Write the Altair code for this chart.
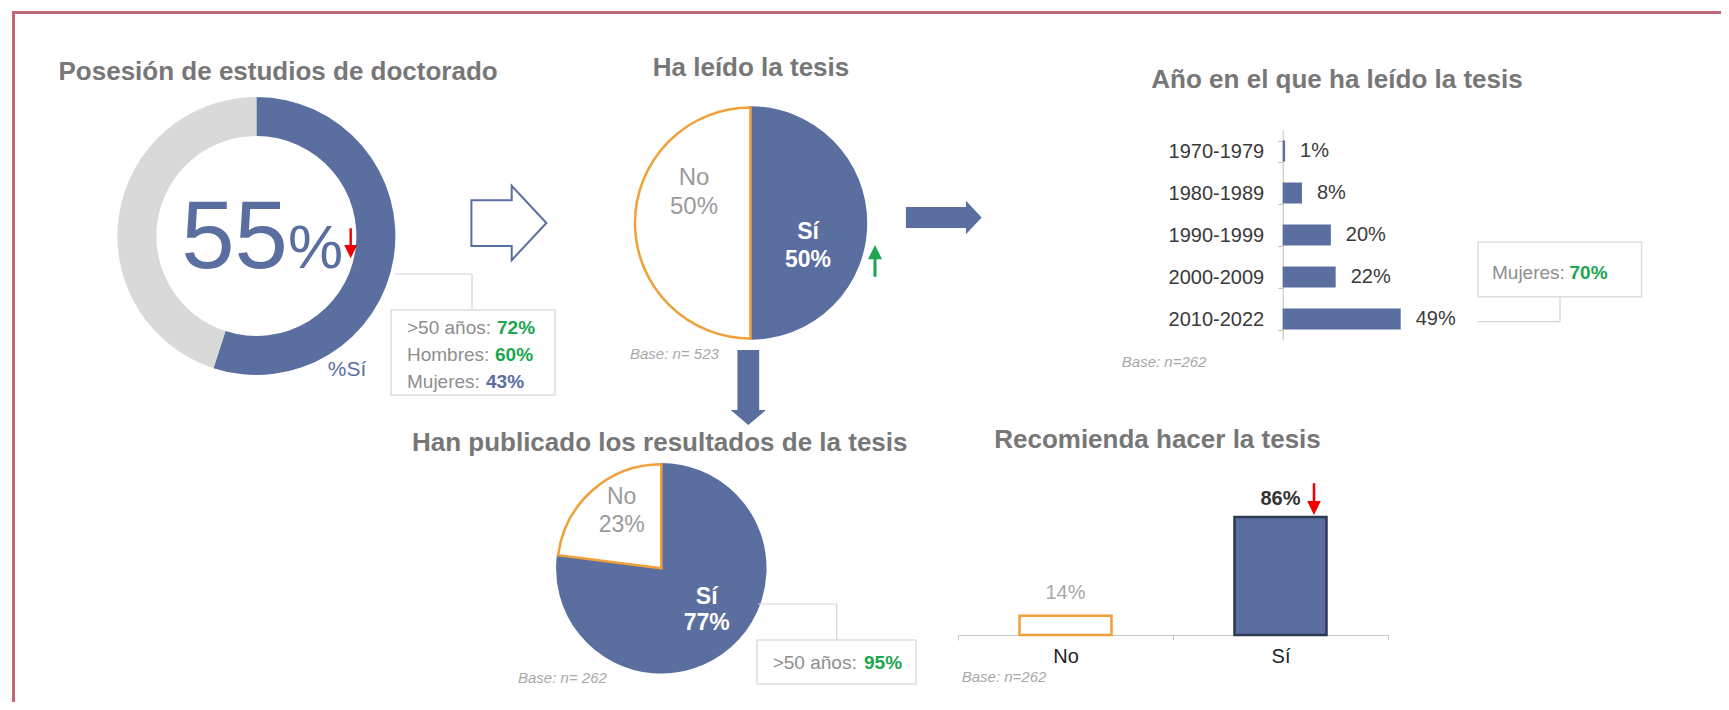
import altair as alt
import pandas as pd

# ---------------- data ----------------
doctorado_cats = ["Sí", "No"]
doctorado_vals = [55, 45]
doctorado_sub_labels = [">50 años:", "Hombres:", "Mujeres:"]
doctorado_sub_vals = [72, 60, 43]

leido_cats = ["Sí", "No"]
leido_vals = [50, 50]
leido_base = 523

anio_cats = ["1970-1979", "1980-1989", "1990-1999", "2000-2009", "2010-2022"]
anio_vals = [1, 8, 20, 22, 49]
anio_sub_labels = ["Mujeres:"]
anio_sub_vals = [70]
anio_base = 262

publicado_cats = ["Sí", "No"]
publicado_vals = [77, 23]
publicado_sub_labels = [">50 años:"]
publicado_sub_vals = [95]
publicado_base = 262

recomienda_cats = ["No", "Sí"]
recomienda_vals = [14, 86]
recomienda_base = 262

# ---------------- styles ----------------
W, H = 1713, 694
OFF = 8


def X(v):
    return v - OFF


def Y(v):
    return v - OFF


FONT = "Liberation Sans"
BLUE = "#5A6E9F"
RING_GRAY = "#D9D9D9"
ORANGE = "#EFA03A"
GREEN = "#1BA650"
RED = "#F20000"
TITLE = "#777777"
LABEL_GRAY = "#8E8E8E"
PIE_GRAY = "#9B9B9B"
BASE_GRAY = "#A8A8A8"
DARK = "#3A3A3A"
BOX = "#DEDEDE"
LINE = "#D4D4D4"
FRAME = "#C3677B"
TITLE_SIZE = 26


def one():
    return pd.DataFrame({"k": [0]})


def text(s, x, y, size, color, weight="normal", align="left", baseline="middle", style="normal"):
    return alt.Chart(pd.DataFrame({"t": [s]})).mark_text(
        align=align, baseline=baseline, font=FONT, fontSize=size,
        fontWeight=weight, fontStyle=style, color=color
    ).encode(x=alt.value(X(x)), y=alt.value(Y(y)), text="t:N")


def seg(x1, y1, x2, y2, color=LINE, width=1.2):
    return alt.Chart(one()).mark_rule(color=color, strokeWidth=width).encode(
        x=alt.value(X(x1)), x2=alt.value(X(x2)), y=alt.value(Y(y1)), y2=alt.value(Y(y2)))


def box(x1, y1, x2, y2):
    return alt.Chart(one()).mark_rect(fill="white", stroke=BOX, strokeWidth=1.5).encode(
        x=alt.value(X(x1)), x2=alt.value(X(x2)), y=alt.value(Y(y1)), y2=alt.value(Y(y2)))


def arrow(path, cx, cy, half, color, hollow=False, sw=2):
    if hollow:
        m = alt.Chart(one()).mark_point(shape=path, size=(2 * half) ** 2, filled=False,
                                         color=color, strokeWidth=sw, opacity=1)
    else:
        m = alt.Chart(one()).mark_point(shape=path, size=(2 * half) ** 2, filled=True,
                                         color=color, strokeWidth=0, opacity=1)
    return m.encode(x=alt.value(X(cx)), y=alt.value(Y(cy)))


def pie_df(cats, vals):
    return pd.DataFrame({"cat": cats, "val": vals, "ord": list(range(len(cats)))})


HOLLOW_RIGHT = "M -1 -0.61 L 0.075 -0.61 L 0.075 -0.99 L 1 0 L 0.075 0.99 L 0.075 0.61 L -1 0.61 Z"
SOLID_RIGHT = "M -1 -0.28 L 0.585 -0.28 L 0.585 -0.44 L 1 0 L 0.585 0.44 L 0.585 0.28 L -1 0.28 Z"
SOLID_DOWN = "M -0.29 -1 L 0.29 -1 L 0.29 0.6 L 0.47 0.6 L 0 1 L -0.47 0.6 L -0.29 0.6 Z"
THIN_DOWN = "M 0 1 L 0.43 0.11 L 0.08 0.11 L 0.08 -1 L -0.08 -1 L -0.08 0.11 L -0.43 0.11 Z"
THIN_UP = "M 0 -1 L 0.44 -0.1 L 0.095 -0.1 L 0.095 1 L -0.095 1 L -0.095 -0.1 L -0.44 -0.1 Z"

layers = []

# frame
layers.append(seg(13.5, 12, 13.5, 720, FRAME, 3))
layers.append(seg(12, 12.5, 1740, 12.5, FRAME, 3))

# ---------- 1: Posesión de estudios de doctorado ----------
layers.append(text("Posesión de estudios de doctorado", 58.5, 71.7, TITLE_SIZE, TITLE, weight="bold"))
layers.append(
    alt.Chart(pie_df(doctorado_cats, doctorado_vals)).mark_arc(innerRadius=100, outerRadius=139).encode(
        theta=alt.Theta("val:Q", stack=True),
        order=alt.Order("ord:Q"),
        color=alt.Color("cat:N", scale=alt.Scale(domain=doctorado_cats, range=[BLUE, RING_GRAY]), legend=None),
        x=alt.value(X(256.4)), y=alt.value(Y(236)),
    )
)
layers.append(text(f"{doctorado_vals[0]}", 288, 268, 96, BLUE, align="right", baseline="alphabetic"))
layers.append(text("%", 288, 268, 62, BLUE, align="left", baseline="alphabetic"))
layers.append(arrow(THIN_DOWN, 350.7, 243.3, 15, RED))
layers.append(text("%" + doctorado_cats[0], 347, 370, 21, BLUE, align="center"))
# call-out
layers.append(seg(395, 274, 472, 274))
layers.append(seg(472, 274, 472, 310))
layers.append(box(391, 310, 555, 395))
sub_colors = [GREEN, GREEN, BLUE]
sub_val_x = [497, 495, 486]
for i, (lab, v) in enumerate(zip(doctorado_sub_labels, doctorado_sub_vals)):
    yy = 328 + 27 * i
    layers.append(text(lab, 407, yy, 19, LABEL_GRAY))
    layers.append(text(f"{v}%", sub_val_x[i], yy, 19, sub_colors[i], weight="bold"))

# hollow arrow
layers.append(arrow(HOLLOW_RIGHT, 508.9, 223, 37.5, BLUE, hollow=True, sw=2))

# ---------- 2: Ha leído la tesis ----------
layers.append(text("Ha leído la tesis", 751, 68, TITLE_SIZE, TITLE, weight="bold", align="center"))
layers.append(
    alt.Chart(pie_df(leido_cats, leido_vals)).mark_arc(outerRadius=115.5, strokeWidth=2.5).encode(
        theta=alt.Theta("val:Q", stack=True),
        order=alt.Order("ord:Q"),
        fill=alt.Fill("cat:N", scale=alt.Scale(domain=leido_cats, range=[BLUE, "white"]), legend=None),
        stroke=alt.Stroke("cat:N", scale=alt.Scale(domain=leido_cats, range=[BLUE, ORANGE]), legend=None),
        x=alt.value(X(750.5)), y=alt.value(Y(223)),
    )
)
layers.append(text(leido_cats[1], 694, 178, 24, PIE_GRAY, align="center"))
layers.append(text(f"{leido_vals[1]}%", 694, 207, 24, PIE_GRAY, align="center"))
layers.append(text(leido_cats[0], 808, 232, 23, "white", weight="bold", align="center"))
layers.append(text(f"{leido_vals[0]}%", 808, 260, 23, "white", weight="bold", align="center"))
layers.append(arrow(THIN_UP, 875, 260.9, 15.9, GREEN))
layers.append(text(f"Base: n= {leido_base}", 630, 354, 15, BASE_GRAY, style="italic"))

# connecting arrows
layers.append(arrow(SOLID_RIGHT, 943.8, 217.5, 37.9, BLUE))
layers.append(arrow(SOLID_DOWN, 748.3, 387.5, 37.5, BLUE))

# ---------- 3: Año en el que ha leído la tesis ----------
layers.append(text("Año en el que ha leído la tesis", 1337, 80, TITLE_SIZE, TITLE, weight="bold", align="center"))
df3 = pd.DataFrame({"cat": anio_cats, "val": anio_vals, "lab": [f"{v}%" for v in anio_vals]})
base3 = alt.Chart(df3).encode(
    y=alt.Y(
        "cat:N", sort=anio_cats,
        scale=alt.Scale(domain=anio_cats, range=[Y(130), Y(340)], paddingInner=0.5, paddingOuter=0.25),
        axis=alt.Axis(orient="left", offset=-X(1282.7), title=None, labelFont=FONT, labelFontSize=20,
                      labelColor=DARK, labelPadding=14, tickSize=5, tickColor="#BFBFBF",
                      domainColor="#BFBFBF", tickBand="extent", grid=False),
    ),
    x=alt.X("val:Q", scale=alt.Scale(domain=[0, 49], range=[X(1282.7), X(1400.7)], nice=False, zero=True),
            axis=None),
)
layers.append(alt.layer(
    base3.mark_bar(color=BLUE),
    base3.mark_text(align="left", baseline="middle", dx=15, font=FONT, fontSize=20, color=DARK).encode(
        text="lab:N"),
))
layers.append(text(f"Base: n={anio_base}", 1121.8, 361.7, 15, BASE_GRAY, style="italic"))
layers.append(seg(1478, 321.7, 1560, 321.7))
layers.append(seg(1560, 321.7, 1560, 296.7))
layers.append(box(1478, 242, 1641.6, 296.7))
layers.append(text(anio_sub_labels[0], 1492, 273, 19, LABEL_GRAY))
layers.append(text(f"{anio_sub_vals[0]}%", 1569.5, 273, 19, GREEN, weight="bold"))

# ---------- 4: Han publicado los resultados de la tesis ----------
layers.append(text("Han publicado los resultados de la tesis", 659.7, 443, TITLE_SIZE, TITLE, weight="bold",
                   align="center"))
layers.append(
    alt.Chart(pie_df(publicado_cats, publicado_vals)).mark_arc(outerRadius=104, strokeWidth=2.5).encode(
        theta=alt.Theta("val:Q", stack=True),
        order=alt.Order("ord:Q"),
        fill=alt.Fill("cat:N", scale=alt.Scale(domain=publicado_cats, range=[BLUE, "white"]), legend=None),
        stroke=alt.Stroke("cat:N", scale=alt.Scale(domain=publicado_cats, range=[BLUE, ORANGE]), legend=None),
        x=alt.value(X(661.3)), y=alt.value(Y(568.3)),
    )
)
layers.append(text(publicado_cats[1], 621.7, 496.7, 23, PIE_GRAY, align="center"))
layers.append(text(f"{publicado_vals[1]}%", 621.7, 525, 23, PIE_GRAY, align="center"))
layers.append(text(publicado_cats[0], 706.7, 596.7, 23, "white", weight="bold", align="center"))
layers.append(text(f"{publicado_vals[0]}%", 706.7, 623.3, 23, "white", weight="bold", align="center"))
layers.append(text(f"Base: n= {publicado_base}", 518, 678, 15, BASE_GRAY, style="italic"))
layers.append(seg(758, 604, 836.7, 604))
layers.append(seg(836.7, 604, 836.7, 640))
layers.append(box(757, 640, 916, 684))
layers.append(text(publicado_sub_labels[0], 772.7, 663, 19, LABEL_GRAY))
layers.append(text(f"{publicado_sub_vals[0]}%", 864, 663, 19, GREEN, weight="bold"))

# ---------- 5: Recomienda hacer la tesis ----------
layers.append(text("Recomienda hacer la tesis", 1157.5, 440, TITLE_SIZE, TITLE, weight="bold", align="center"))
df5 = pd.DataFrame({"cat": recomienda_cats, "val": recomienda_vals,
                    "lab": [f"{v}%" for v in recomienda_vals]})
base5 = alt.Chart(df5).encode(
    x=alt.X(
        "cat:N", sort=recomienda_cats,
        scale=alt.Scale(domain=recomienda_cats, range=[X(958), X(1388)], paddingInner=0, paddingOuter=0),
        axis=alt.Axis(orient="bottom", offset=-(H - Y(635)), title=None, labelAngle=0, labelFont=FONT,
                      labelFontSize=20, labelColor="#222222", labelPadding=6, tickSize=5,
                      tickColor="#C8C8C8", domainColor="#C8C8C8", tickBand="extent", grid=False),
    ),
    y=alt.Y("val:Q", scale=alt.Scale(domain=[0, 86], range=[Y(635), Y(517)], nice=False, zero=True),
            axis=None),
)
layers.append(alt.layer(
    base5.mark_bar(size=92, strokeWidth=2.5).encode(
        fill=alt.Fill("cat:N", scale=alt.Scale(domain=recomienda_cats, range=["white", BLUE]), legend=None),
        stroke=alt.Stroke("cat:N", scale=alt.Scale(domain=recomienda_cats, range=[ORANGE, "#2E3954"]),
                          legend=None),
    ),
    base5.transform_filter(alt.datum.cat == recomienda_cats[0]).mark_text(
        baseline="middle", dy=-23, font=FONT, fontSize=20, color=BASE_GRAY).encode(text="lab:N"),
    base5.transform_filter(alt.datum.cat == recomienda_cats[1]).mark_text(
        baseline="middle", dy=-17.7, font=FONT, fontSize=20, fontWeight="bold", color="#333333").encode(
        text="lab:N"),
))
layers.append(arrow(THIN_DOWN, 1314, 499.2, 15.9, RED))
layers.append(text(f"Base: n={recomienda_base}", 961.7, 676.7, 15, BASE_GRAY, style="italic"))

chart = alt.layer(*layers).properties(
    width=W, height=H, autosize="none", padding=0, background="white"
).resolve_scale(
    x="independent", y="independent", theta="independent", color="independent",
    fill="independent", stroke="independent"
).configure_view(stroke=None)

chart.save("out.html", embed_options={"renderer": "svg", "actions": False})
